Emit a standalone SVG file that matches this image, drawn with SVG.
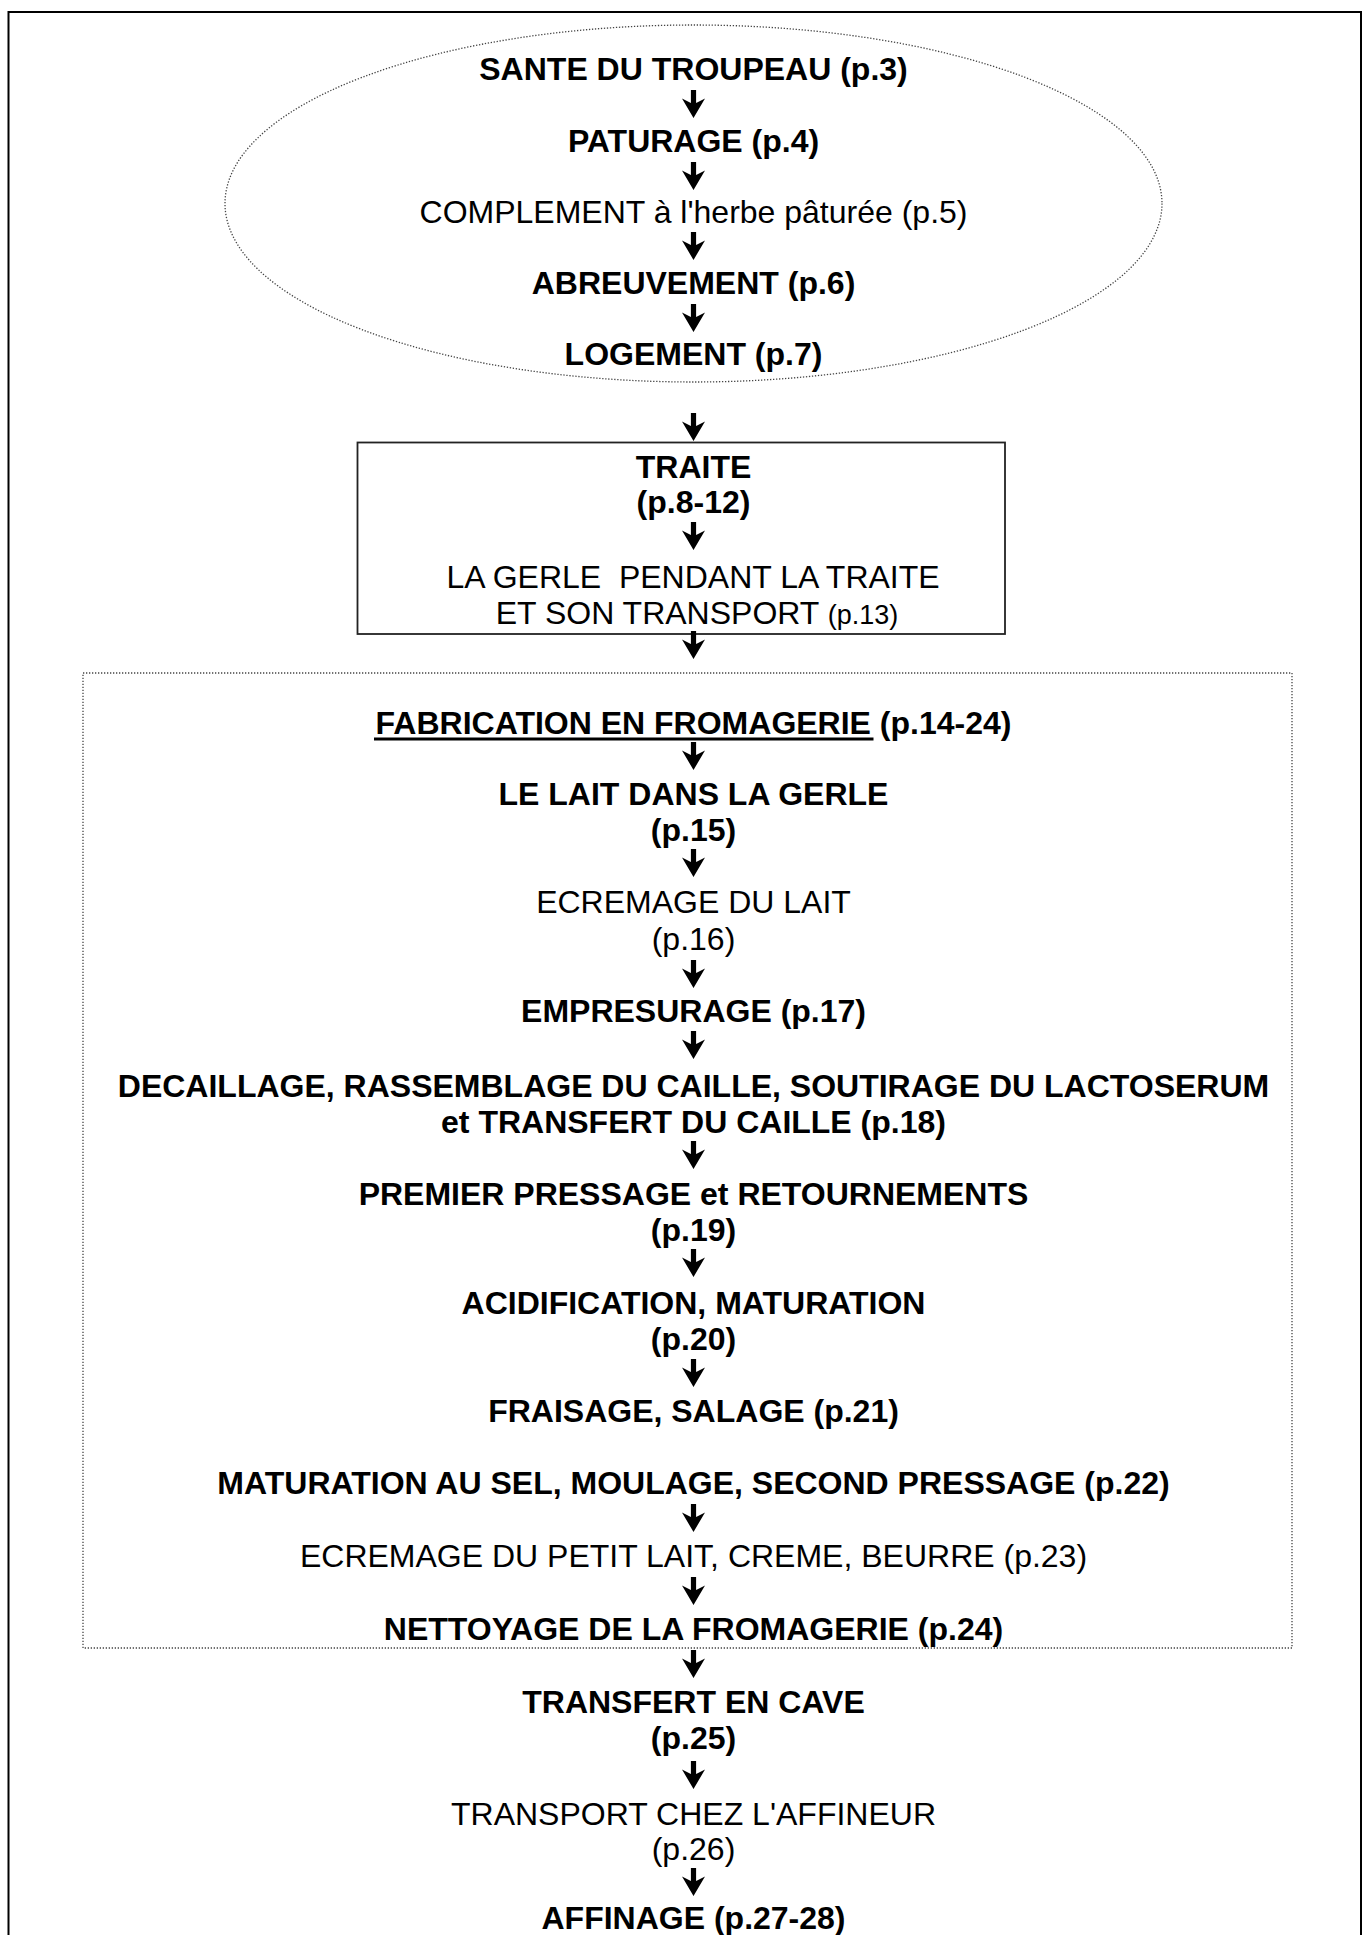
<svg xmlns="http://www.w3.org/2000/svg" width="1369" height="1935" viewBox="0 0 1369 1935">
<style>
text{font-family:"Liberation Sans",Arial,Helvetica,sans-serif;font-size:32px;fill:#000;text-anchor:middle}
.b{font-weight:bold}
.r{font-weight:normal}
.sm{font-size:27px}
.dot{fill:none;stroke:#444;stroke-width:1.3;stroke-dasharray:1.3 1.7}
</style>
<defs>
<path id="arr" d="M -2.6 0 H 2.6 V 13 L 11.5 8.5 L 0 28 L -11.5 8.5 L -2.6 13 Z" fill="#000"/>
</defs>
<rect width="1369" height="1935" fill="#fff"/>
<path d="M 8.5 1935 V 12 H 1361 V 1935" fill="none" stroke="#000" stroke-width="2"/>

<g id="group-elevage">
<ellipse class="dot" cx="693.5" cy="203.5" rx="468.5" ry="178.5"/>
</g>
<g id="group-traite">
<rect x="357.5" y="442.5" width="647.5" height="191.5" fill="none" stroke="#222" stroke-width="1.8"/>
</g>
<g id="group-fabrication">
<rect class="dot" x="83" y="673" width="1209" height="975"/>
</g>

<g id="n-sante"><text class="b" x="693.5" y="80">SANTE DU TROUPEAU (p.3)</text></g>
<g id="n-paturage"><text class="b" x="693.5" y="152">PATURAGE (p.4)</text></g>
<g id="n-complement"><text class="r" x="693.5" y="223">COMPLEMENT à l'herbe pâturée (p.5)</text></g>
<g id="n-abreuvement"><text class="b" x="693.5" y="294">ABREUVEMENT (p.6)</text></g>
<g id="n-logement"><text class="b" x="693.5" y="365">LOGEMENT (p.7)</text></g>

<g id="n-traite"><text class="b" x="693.5" y="478">TRAITE</text><text class="b" x="693.5" y="513">(p.8-12)</text></g>
<g id="n-gerle"><text class="r" x="693" y="588" xml:space="preserve">LA GERLE  PENDANT LA TRAITE</text><text class="r" x="697" y="624">ET SON TRANSPORT <tspan class="sm">(p.13)</tspan></text></g>

<g id="n-fabrication"><text class="b" x="693.5" y="734">FABRICATION EN FROMAGERIE (p.14-24)</text><rect x="374" y="737.5" width="499.5" height="3" fill="#000"/></g>
<g id="n-lait"><text class="b" x="693.5" y="805">LE LAIT DANS LA GERLE</text><text class="b" x="693.5" y="841">(p.15)</text></g>
<g id="n-ecremage"><text class="r" x="693.5" y="913">ECREMAGE DU LAIT</text><text class="r" x="693.5" y="950">(p.16)</text></g>
<g id="n-empresurage"><text class="b" x="693.5" y="1022">EMPRESURAGE (p.17)</text></g>
<g id="n-decaillage"><text class="b" x="693.5" y="1097">DECAILLAGE, RASSEMBLAGE DU CAILLE, SOUTIRAGE DU LACTOSERUM</text><text class="b" x="693.5" y="1133">et TRANSFERT DU CAILLE (p.18)</text></g>
<g id="n-pressage"><text class="b" x="693.5" y="1205">PREMIER PRESSAGE et RETOURNEMENTS</text><text class="b" x="693.5" y="1241">(p.19)</text></g>
<g id="n-acidification"><text class="b" x="693.5" y="1314">ACIDIFICATION, MATURATION</text><text class="b" x="693.5" y="1350">(p.20)</text></g>
<g id="n-fraisage"><text class="b" x="693.5" y="1422">FRAISAGE, SALAGE (p.21)</text></g>
<g id="n-maturation"><text class="b" x="693.5" y="1494">MATURATION AU SEL, MOULAGE, SECOND PRESSAGE (p.22)</text></g>
<g id="n-petitlait"><text class="r" x="693.5" y="1567">ECREMAGE DU PETIT LAIT, CREME, BEURRE (p.23)</text></g>
<g id="n-nettoyage"><text class="b" x="693.5" y="1640">NETTOYAGE DE LA FROMAGERIE (p.24)</text></g>
<g id="n-cave"><text class="b" x="693.5" y="1713">TRANSFERT EN CAVE</text><text class="b" x="693.5" y="1749">(p.25)</text></g>
<g id="n-transport"><text class="r" x="693.5" y="1825">TRANSPORT CHEZ L'AFFINEUR</text><text class="r" x="693.5" y="1860">(p.26)</text></g>
<g id="n-affinage"><text class="b" x="693.5" y="1929">AFFINAGE (p.27-28)</text></g>

<g id="connectors">
<use href="#arr" x="693.5" y="90"/>
<use href="#arr" x="693.5" y="162"/>
<use href="#arr" x="693.5" y="232"/>
<use href="#arr" x="693.5" y="304"/>
<use href="#arr" x="693.5" y="413"/>
<use href="#arr" x="693.5" y="522"/>
<use href="#arr" x="693.5" y="631"/>
<use href="#arr" x="693.5" y="742"/>
<use href="#arr" x="693.5" y="849"/>
<use href="#arr" x="693.5" y="960"/>
<use href="#arr" x="693.5" y="1031"/>
<use href="#arr" x="693.5" y="1141"/>
<use href="#arr" x="693.5" y="1249"/>
<use href="#arr" x="693.5" y="1359"/>
<use href="#arr" x="693.5" y="1504"/>
<use href="#arr" x="693.5" y="1577"/>
<use href="#arr" x="693.5" y="1650"/>
<use href="#arr" x="693.5" y="1761"/>
<use href="#arr" x="693.5" y="1868"/>
</g>
</svg>
